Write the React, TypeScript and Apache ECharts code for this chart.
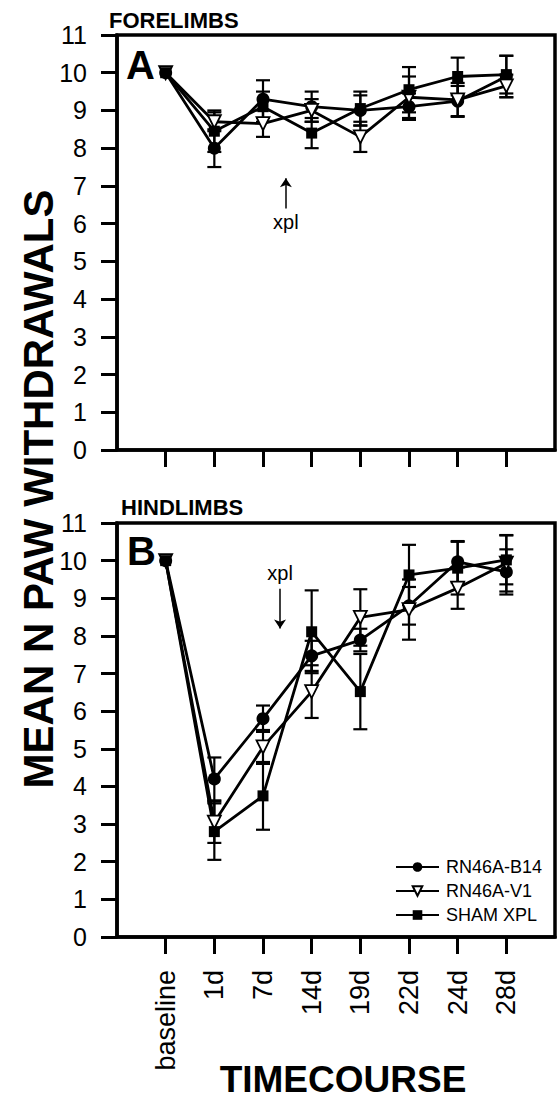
import React, { useEffect, useRef } from 'react';
import * as echarts from 'echarts';

const categories = ['baseline', '1d', '7d', '14d', '19d', '22d', '24d', '28d'];
const seriesNames = ['RN46A-B14', 'RN46A-V1', 'SHAM XPL'];

// Panel A: forelimbs
const foreB14 = [10, 8.0, 9.3, 9.1, 9.0, 9.1, 9.25, 9.9];
const foreB14Err = [0, 0.5, 0.5, 0.4, 0.4, 0.35, 0.4, 0.55];
const foreV1 = [10, 8.7, 8.65, 9.0, 8.3, 9.35, 9.28, 9.65];
const foreV1Err = [0, 0.25, 0.35, 0.3, 0.4, 0.55, 0.45, 0.3];
const foreSham = [10, 8.45, 9.1, 8.4, 9.05, 9.55, 9.9, 9.95];
const foreShamErr = [0, 0.55, 0.4, 0.4, 0.45, 0.6, 0.5, 0.5];

// Panel B: hindlimbs
const hindB14 = [10, 4.2, 5.8, 7.47, 7.89, 8.8, 9.97, 9.7];
const hindB14Err = [0, 0.57, 0.35, 0.4, 0.3, 0.5, 0.55, 0.6];
const hindV1 = [10, 3.05, 5.05, 6.52, 8.49, 8.7, 9.27, 9.93];
const hindV1Err = [0, 0.55, 0.45, 0.7, 0.75, 0.8, 0.55, 0.75];
const hindSham = [10, 2.8, 3.75, 8.11, 6.52, 9.62, 9.8, 10.02];
const hindShamErr = [0, 0.75, 0.9, 1.1, 1.0, 0.8, 0.7, 0.65];

// xpl annotations: x position (category units), arrow start, arrow end, label y
const xplA = { x: 2.47, from: 6.4, to: 7.2, label: 6.05 };
const xplB = { x: 2.35, from: 9.25, to: 8.2, label: 9.68 };

const FONT = 'Liberation Sans, Arial, Helvetica, sans-serif';

const styles = [
  { symbol: 'circle', symbolSize: 13, symbolRotate: 0, itemStyle: { color: '#000' } },
  { symbol: 'triangle', symbolSize: 13, symbolRotate: 180, itemStyle: { color: '#fff', borderColor: '#000', borderWidth: 1.8 } },
  { symbol: 'rect', symbolSize: 11, symbolRotate: 0, itemStyle: { color: '#000' } },
];

function errData(vals: number[], errs: number[]) {
  const out: number[][] = [];
  vals.forEach((v, i) => {
    if (errs[i] > 0) out.push([i, v - errs[i], v + errs[i]]);
  });
  return out;
}

function errorSeries(idx: number, vals: number[], errs: number[]) {
  return {
    type: 'custom',
    xAxisIndex: idx,
    yAxisIndex: idx,
    silent: true,
    z: 1,
    data: errData(vals, errs),
    renderItem: (params: any, api: any) => {
      const x = api.value(0);
      const lo = api.coord([x, api.value(1)]);
      const hi = api.coord([x, api.value(2)]);
      const hw = 7;
      const st = { stroke: '#000', lineWidth: 2.2 };
      return {
        type: 'group',
        children: [
          { type: 'line', shape: { x1: lo[0], y1: lo[1], x2: hi[0], y2: hi[1] }, style: st },
          { type: 'line', shape: { x1: lo[0] - hw, y1: lo[1], x2: lo[0] + hw, y2: lo[1] }, style: st },
          { type: 'line', shape: { x1: hi[0] - hw, y1: hi[1], x2: hi[0] + hw, y2: hi[1] }, style: st },
        ],
      };
    },
  };
}

function lineSeries(idx: number, k: number, vals: number[], xpl?: any) {
  const s: any = {
    type: 'line',
    name: seriesNames[k],
    xAxisIndex: idx,
    yAxisIndex: idx,
    data: vals.map((v, i) => [i, v]),
    symbol: styles[k].symbol,
    symbolSize: styles[k].symbolSize,
    symbolRotate: styles[k].symbolRotate,
    itemStyle: styles[k].itemStyle,
    lineStyle: { color: '#000', width: 2.8 },
    z: 3,
  };
  if (xpl) {
    s.markLine = {
      silent: true,
      symbol: ['none', 'arrow'],
      symbolSize: 9,
      label: { show: false },
      lineStyle: { color: '#000', width: 1.5, type: 'solid' },
      data: [[{ coord: [xpl.x, xpl.from] }, { coord: [xpl.x, xpl.to] }]],
    };
    s.markPoint = {
      silent: true,
      symbol: 'circle',
      symbolSize: 1,
      itemStyle: { color: 'transparent' },
      label: { show: true, formatter: 'xpl', position: 'inside', color: '#000', fontSize: 20, fontFamily: FONT },
      data: [{ coord: [xpl.x, xpl.label] }],
    };
  }
  return s;
}

function xAxis(idx: number, showLabels: boolean) {
  return {
    type: 'value',
    gridIndex: idx,
    min: -1,
    max: 8,
    axisLine: { show: true, onZero: false, lineStyle: { color: '#000', width: 3.5 } },
    axisTick: { show: true, length: 17, lineStyle: { color: '#000', width: 3 }, customValues: categories.map((_, i) => i) },
    axisLabel: {
      show: showLabels,
      customValues: categories.map((_, i) => i),
      formatter: (v: number) => categories[Math.round(v)] ?? '',
      rotate: 90,
      margin: 33,
      fontSize: 27,
      color: '#000',
      fontFamily: FONT,
    },
    splitLine: { show: false },
  };
}

function yAxis(idx: number) {
  return {
    type: 'value',
    gridIndex: idx,
    min: 0,
    max: 11,
    interval: 1,
    axisLine: { show: true, onZero: false, lineStyle: { color: '#000', width: 3.5 } },
    axisTick: { show: true, length: 16, lineStyle: { color: '#000', width: 3 } },
    axisLabel: { fontSize: 25, color: '#000', margin: 30, fontFamily: FONT },
    splitLine: { show: false },
  };
}

export default function App() {
  const ref = useRef<HTMLDivElement>(null);
  useEffect(() => {
    if (!ref.current) return;
    const chart = echarts.init(ref.current, null, { renderer: 'svg' });
    const bold = (size: number) => `bold ${size}px ${FONT}`;
    chart.setOption({
      animation: false,
      backgroundColor: '#fff',
      grid: [
        { left: 117, top: 35, width: 438, height: 415, show: true, borderColor: '#000', borderWidth: 3.5, backgroundColor: 'transparent' },
        { left: 117, top: 523, width: 438, height: 414, show: true, borderColor: '#000', borderWidth: 3.5, backgroundColor: 'transparent' },
      ],
      xAxis: [xAxis(0, false), xAxis(1, true)],
      yAxis: [yAxis(0), yAxis(1)],
      legend: {
        data: seriesNames,
        orient: 'vertical',
        left: 390,
        top: 853,
        itemWidth: 43,
        itemHeight: 12,
        itemGap: 6,
        selectedMode: false,
        textStyle: { fontSize: 18, color: '#000', fontFamily: FONT, padding: [0, 0, 0, 2] },
      },
      series: [
        errorSeries(0, foreB14, foreB14Err),
        errorSeries(0, foreV1, foreV1Err),
        errorSeries(0, foreSham, foreShamErr),
        lineSeries(0, 0, foreB14, xplA),
        lineSeries(0, 1, foreV1),
        lineSeries(0, 2, foreSham),
        errorSeries(1, hindB14, hindB14Err),
        errorSeries(1, hindV1, hindV1Err),
        errorSeries(1, hindSham, hindShamErr),
        lineSeries(1, 0, hindB14, xplB),
        lineSeries(1, 1, hindV1),
        lineSeries(1, 2, hindSham),
      ],
      graphic: [
        { type: 'text', left: 109, top: 9, style: { text: 'FORELIMBS', font: bold(22), fill: '#000' } },
        { type: 'text', left: 121, top: 496, style: { text: 'HINDLIMBS', font: bold(22), fill: '#000' } },
        { type: 'text', left: 126, top: 45, style: { text: 'A', font: bold(40), fill: '#000' } },
        { type: 'text', left: 127, top: 531, style: { text: 'B', font: bold(40), fill: '#000' } },
        {
          type: 'text', x: 38, y: 489, rotation: Math.PI / 2,
          style: { text: 'MEAN N PAW WITHDRAWALS', font: bold(42), fill: '#000', align: 'center', verticalAlign: 'middle', textAlign: 'center', textVerticalAlign: 'middle' },
        },
        {
          type: 'text', x: 343, y: 1079,
          style: { text: 'TIMECOURSE', font: bold(37), fill: '#000', align: 'center', verticalAlign: 'middle', textAlign: 'center', textVerticalAlign: 'middle' },
        },
      ],
    });
    return () => chart.dispose();
  }, []);
  return <div ref={ref} style={{ position: 'fixed', left: 0, top: 0, width: 557, height: 1101, background: '#fff' }} />;
}
